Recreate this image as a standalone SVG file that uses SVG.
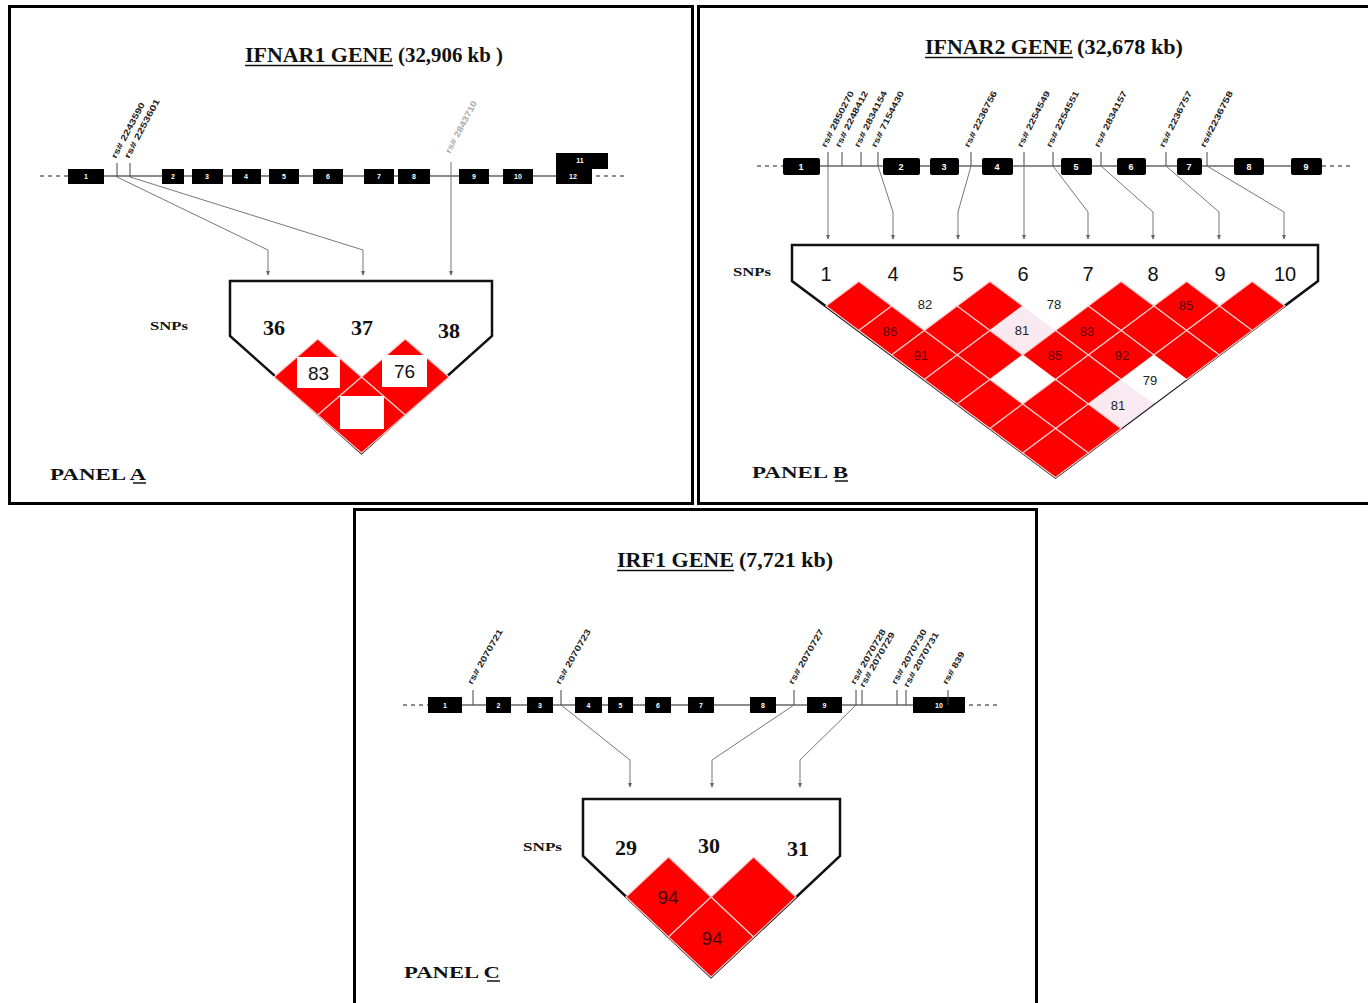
<svg xmlns="http://www.w3.org/2000/svg" xmlns:xlink="http://www.w3.org/1999/xlink" width="1368" height="1003" viewBox="0 0 1368 1003">
<style>
.panel{fill:#fff;stroke:#000;stroke-width:3}
.title{font-family:"Liberation Serif",serif;font-weight:bold;font-size:21px;fill:#111}
.plabel{font-family:"Liberation Serif",serif;font-weight:bold;font-size:17px;fill:#111}
.snps{font-family:"Liberation Serif",serif;font-weight:bold;font-size:12px;fill:#111}
.gline{stroke:#8c8c8c;stroke-width:2;fill:none}
.gdash{stroke:#8c8c8c;stroke-width:2;stroke-dasharray:4 4;fill:none}
.exon{fill:#000}
.enum{font-family:"Liberation Sans",sans-serif;font-weight:bold;font-size:7px;fill:#fff;text-anchor:middle}
.enumB{font-family:"Liberation Sans",sans-serif;font-weight:bold;font-size:9px;fill:#fff;text-anchor:middle}
.tick{stroke:#444;stroke-width:1}
.rs{font-family:"Liberation Sans",sans-serif;font-weight:bold;font-size:8.5px;fill:#222}
.conn{stroke:#777;stroke-width:1;fill:none}
.tri{fill:#fff;stroke:#111;stroke-width:2.5;stroke-linejoin:miter}
.red{fill:#f00;stroke:#ffc8c8;stroke-width:1.2}
.wht{fill:#fff;stroke:none}
.pnk{fill:#f9eaf2;stroke:none}
.numS{font-family:"Liberation Serif",serif;font-weight:bold;font-size:22px;fill:#111;text-anchor:middle}
.numB{font-family:"Liberation Sans",sans-serif;font-size:20px;fill:#111;text-anchor:middle}
.ld{font-family:"Liberation Sans",sans-serif;font-size:13px;fill:#222;text-anchor:middle}
.ldr{font-family:"Liberation Sans",sans-serif;font-size:13px;fill:#5a0000;text-anchor:middle}
.box{fill:#fff}
.boxt{font-family:"Liberation Sans",sans-serif;font-size:19px;fill:#111;text-anchor:middle}
</style>
<defs>
<marker id="arr" viewBox="0 0 6 6" refX="5" refY="3" markerWidth="5" markerHeight="5" orient="auto">
<path d="M0,0.5 L6,3 L0,5.5 Z" fill="#666"/>
</marker>
<path id="dA" d="M0,-38 L43.75,0 L0,38 L-43.75,0 Z"/>
<path id="dB" d="M0,-24.5 L32.79,0 L0,24.5 L-32.79,0 Z"/>
<path id="dC" d="M0,-40 L42.5,0 L0,40 L-42.5,0 Z"/>
</defs>
<rect width="1368" height="1003" fill="#fff"/>

<!-- ================= PANEL A ================= -->
<g id="panelA">
<rect class="panel" x="9.5" y="6.5" width="683" height="497"/>
<text class="title" x="245" y="62" textLength="148" lengthAdjust="spacingAndGlyphs">IFNAR1 GENE</text>
<line x1="245" y1="65.5" x2="393" y2="65.5" stroke="#111" stroke-width="1.5"/>
<text class="title" x="398" y="62" textLength="105" lengthAdjust="spacingAndGlyphs">(32,906 kb )</text>
<line class="gdash" x1="40" y1="176" x2="68" y2="176"/>
<line class="gline" x1="104" y1="176" x2="556" y2="176"/>
<line class="gdash" x1="596" y1="176" x2="628" y2="176"/>
<g id="A-exon1"><rect class="exon" x="68" y="169" width="36" height="15"/><text class="enum" x="86" y="179">1</text></g>
<g id="A-exon2"><rect class="exon" x="162" y="169" width="22" height="15"/><text class="enum" x="173" y="179">2</text></g>
<g id="A-exon3"><rect class="exon" x="192" y="169" width="31" height="15"/><text class="enum" x="207" y="179">3</text></g>
<g id="A-exon4"><rect class="exon" x="232" y="169" width="29" height="15"/><text class="enum" x="246" y="179">4</text></g>
<g id="A-exon5"><rect class="exon" x="269" y="169" width="30" height="15"/><text class="enum" x="284" y="179">5</text></g>
<g id="A-exon6"><rect class="exon" x="313" y="169" width="30" height="15"/><text class="enum" x="328" y="179">6</text></g>
<g id="A-exon7"><rect class="exon" x="364" y="169" width="30" height="15"/><text class="enum" x="379" y="179">7</text></g>
<g id="A-exon8"><rect class="exon" x="398" y="169" width="32" height="15"/><text class="enum" x="414" y="179">8</text></g>
<g id="A-exon9"><rect class="exon" x="459" y="169" width="30" height="15"/><text class="enum" x="474" y="179">9</text></g>
<g id="A-exon10"><rect class="exon" x="503" y="169" width="30" height="15"/><text class="enum" x="518" y="179">10</text></g>
<g id="A-exon11"><path class="exon" d="M556,153 H608 V169 H592 V184 H556 Z"/><text class="enum" x="580" y="163">11</text><text class="enum" x="573" y="179">12</text></g>
<g id="A-snp36"><line class="tick" x1="117" y1="163" x2="117" y2="177"/><text class="rs" transform="translate(116,159) rotate(-62)" textLength="62" lengthAdjust="spacingAndGlyphs">rs# 2243590</text></g>
<g id="A-snp37"><line class="tick" x1="130" y1="163" x2="130" y2="177"/><text class="rs" transform="translate(129,159) rotate(-62)" textLength="66" lengthAdjust="spacingAndGlyphs">rs# 2253601</text></g>
<g id="A-snp38"><text class="rs" style="fill:#aaa" transform="translate(450,154) rotate(-62)" textLength="58" lengthAdjust="spacingAndGlyphs">rs# 2843710</text></g>
<text class="snps" x="150" y="330" textLength="38" lengthAdjust="spacingAndGlyphs">SNPs</text>
<g id="A-ldplot">
<path class="tri" d="M230,281 H492 V336 L361.5,453 L230,336 Z"/>
<text class="numS" x="274" y="335">36</text>
<text class="numS" x="362" y="335">37</text>
<text class="numS" x="449" y="338">38</text>
<use xlink:href="#dA" class="red" x="317.75" y="377"/>
<use xlink:href="#dA" class="red" x="405.25" y="377"/>
<use xlink:href="#dA" class="red" x="361.5" y="415"/>
<rect class="box" x="297" y="357" width="43" height="31"/>
<text class="boxt" x="318.5" y="380">83</text>
<rect class="box" x="382" y="355" width="45" height="32"/>
<text class="boxt" x="404.5" y="378">76</text>
<rect class="box" x="340" y="396" width="44" height="33"/>
</g>
<text class="plabel" x="50" y="480" textLength="96" lengthAdjust="spacingAndGlyphs">PANEL A</text>
<line x1="133" y1="483" x2="146" y2="483" stroke="#111" stroke-width="1.5"/>
</g>

<!-- ================= PANEL B ================= -->
<g id="panelB">
<rect class="panel" x="698.5" y="6.5" width="690" height="497"/>
<text class="title" x="925" y="54" textLength="148" lengthAdjust="spacingAndGlyphs">IFNAR2 GENE</text>
<line x1="925" y1="57.5" x2="1073" y2="57.5" stroke="#111" stroke-width="1.5"/>
<text class="title" x="1077" y="54" textLength="106" lengthAdjust="spacingAndGlyphs">(32,678 kb)</text>
<line class="gdash" x1="757" y1="166" x2="783" y2="166"/>
<line class="gline" x1="783" y1="166" x2="1322" y2="166"/>
<line class="gdash" x1="1322" y1="166" x2="1352" y2="166"/>
<g id="B-exon1"><rect class="exon" x="783" y="158" width="37" height="17" rx="2"/><text class="enumB" x="801" y="170">1</text></g>
<g id="B-exon2"><rect class="exon" x="883" y="158" width="37" height="17" rx="2"/><text class="enumB" x="901" y="170">2</text></g>
<g id="B-exon3"><rect class="exon" x="930" y="158" width="29" height="17" rx="2"/><text class="enumB" x="944" y="170">3</text></g>
<g id="B-exon4"><rect class="exon" x="982" y="158" width="31" height="17" rx="2"/><text class="enumB" x="997" y="170">4</text></g>
<g id="B-exon5"><rect class="exon" x="1061" y="158" width="31" height="17" rx="2"/><text class="enumB" x="1076" y="170">5</text></g>
<g id="B-exon6"><rect class="exon" x="1117" y="158" width="29" height="17" rx="2"/><text class="enumB" x="1131" y="170">6</text></g>
<g id="B-exon7"><rect class="exon" x="1177" y="158" width="25" height="17" rx="2"/><text class="enumB" x="1189" y="170">7</text></g>
<g id="B-exon8"><rect class="exon" x="1234" y="158" width="30" height="17" rx="2"/><text class="enumB" x="1249" y="170">8</text></g>
<g id="B-exon9"><rect class="exon" x="1291" y="158" width="31" height="17" rx="2"/><text class="enumB" x="1306" y="170">9</text></g>
<g id="B-snp1"><line class="tick" x1="828" y1="152" x2="828" y2="166"/><text class="rs" transform="translate(826,148) rotate(-63)" textLength="62" lengthAdjust="spacingAndGlyphs">rs# 2850270</text></g>
<g id="B-snp2"><line class="tick" x1="842" y1="152" x2="842" y2="166"/><text class="rs" transform="translate(840,148) rotate(-63)" textLength="62" lengthAdjust="spacingAndGlyphs">rs# 2248412</text></g>
<g id="B-snp3"><line class="tick" x1="861" y1="152" x2="861" y2="166"/><text class="rs" transform="translate(859,148) rotate(-63)" textLength="62" lengthAdjust="spacingAndGlyphs">rs# 2834154</text></g>
<g id="B-snp4"><line class="tick" x1="878" y1="152" x2="878" y2="166"/><text class="rs" transform="translate(876,148) rotate(-63)" textLength="62" lengthAdjust="spacingAndGlyphs">rs# 7154430</text></g>
<g id="B-snp5"><line class="tick" x1="971" y1="152" x2="971" y2="166"/><text class="rs" transform="translate(969,148) rotate(-63)" textLength="62" lengthAdjust="spacingAndGlyphs">rs# 2236756</text></g>
<g id="B-snp6"><line class="tick" x1="1024" y1="152" x2="1024" y2="166"/><text class="rs" transform="translate(1022,148) rotate(-63)" textLength="62" lengthAdjust="spacingAndGlyphs">rs# 2254549</text></g>
<g id="B-snp7"><line class="tick" x1="1053" y1="152" x2="1053" y2="166"/><text class="rs" transform="translate(1051,148) rotate(-63)" textLength="62" lengthAdjust="spacingAndGlyphs">rs# 2254551</text></g>
<g id="B-snp8"><line class="tick" x1="1101" y1="152" x2="1101" y2="166"/><text class="rs" transform="translate(1099,148) rotate(-63)" textLength="62" lengthAdjust="spacingAndGlyphs">rs# 2834157</text></g>
<g id="B-snp9"><line class="tick" x1="1166" y1="152" x2="1166" y2="166"/><text class="rs" transform="translate(1164,148) rotate(-63)" textLength="62" lengthAdjust="spacingAndGlyphs">rs# 2236757</text></g>
<g id="B-snp10"><line class="tick" x1="1207" y1="152" x2="1207" y2="166"/><text class="rs" transform="translate(1205,148) rotate(-63)" textLength="62" lengthAdjust="spacingAndGlyphs">rs#2236758</text></g>
<text class="snps" x="733" y="276" textLength="38" lengthAdjust="spacingAndGlyphs">SNPs</text>
<g id="B-ldplot">
<path class="tri" d="M792,245 H1318 V281 L1055.5,477.5 L792,281 Z"/>
<text class="numB" x="826" y="281">1</text>
<text class="numB" x="893" y="281">4</text>
<text class="numB" x="958" y="281">5</text>
<text class="numB" x="1023" y="281">6</text>
<text class="numB" x="1088" y="281">7</text>
<text class="numB" x="1153" y="281">8</text>
<text class="numB" x="1220" y="281">9</text>
<text class="numB" x="1285" y="281">10</text>
<use xlink:href="#dB" class="red" x="858.8" y="306"/>
<use xlink:href="#dB" class="wht" x="924.4" y="306"/>
<use xlink:href="#dB" class="red" x="989.9" y="306"/>
<use xlink:href="#dB" class="wht" x="1055.5" y="306"/>
<use xlink:href="#dB" class="red" x="1121.1" y="306"/>
<use xlink:href="#dB" class="red" x="1186.6" y="306"/>
<use xlink:href="#dB" class="red" x="1252.2" y="306"/>
<use xlink:href="#dB" class="red" x="891.6" y="330.5"/>
<use xlink:href="#dB" class="red" x="957.1" y="330.5"/>
<use xlink:href="#dB" class="pnk" x="1022.7" y="330.5"/>
<use xlink:href="#dB" class="red" x="1088.3" y="330.5"/>
<use xlink:href="#dB" class="red" x="1153.9" y="330.5"/>
<use xlink:href="#dB" class="red" x="1219.4" y="330.5"/>
<use xlink:href="#dB" class="red" x="924.4" y="355"/>
<use xlink:href="#dB" class="red" x="989.9" y="355"/>
<use xlink:href="#dB" class="red" x="1055.5" y="355"/>
<use xlink:href="#dB" class="red" x="1121.1" y="355"/>
<use xlink:href="#dB" class="red" x="1186.6" y="355"/>
<use xlink:href="#dB" class="red" x="957.1" y="379.5"/>
<use xlink:href="#dB" class="wht" x="1022.7" y="379.5"/>
<use xlink:href="#dB" class="red" x="1088.3" y="379.5"/>
<use xlink:href="#dB" class="wht" x="1153.9" y="379.5"/>
<use xlink:href="#dB" class="red" x="989.9" y="404"/>
<use xlink:href="#dB" class="red" x="1055.5" y="404"/>
<use xlink:href="#dB" class="pnk" x="1121.1" y="404"/>
<use xlink:href="#dB" class="red" x="1022.7" y="428.5"/>
<use xlink:href="#dB" class="red" x="1088.3" y="428.5"/>
<use xlink:href="#dB" class="red" x="1055.5" y="453"/>
<text class="ld" x="925" y="309">82</text>
<text class="ld" x="1054" y="309">78</text>
<text class="ldr" x="1186" y="310">85</text>
<text class="ldr" x="890" y="336">86</text>
<text class="ld" x="1022" y="335">81</text>
<text class="ldr" x="1087" y="336">83</text>
<text class="ldr" x="921" y="360">91</text>
<text class="ldr" x="1055" y="360">85</text>
<text class="ldr" x="1122" y="360">92</text>
<text class="ld" x="1150" y="385">79</text>
<text class="ld" x="1118" y="410">81</text>
</g>
<text class="plabel" x="752" y="478" textLength="96" lengthAdjust="spacingAndGlyphs">PANEL B</text>
<line x1="835" y1="481" x2="848" y2="481" stroke="#111" stroke-width="1.5"/>
</g>

<!-- ================= PANEL C ================= -->
<g id="panelC">
<rect class="panel" x="354.5" y="509.5" width="682" height="500"/>
<text class="title" x="617" y="567" textLength="117" lengthAdjust="spacingAndGlyphs">IRF1 GENE</text>
<line x1="617" y1="570.5" x2="734" y2="570.5" stroke="#111" stroke-width="1.5"/>
<text class="title" x="739" y="567" textLength="94" lengthAdjust="spacingAndGlyphs">(7,721 kb)</text>
<line class="gdash" x1="403" y1="705" x2="428" y2="705"/>
<line class="gline" x1="428" y1="705" x2="965" y2="705"/>
<line class="gdash" x1="969" y1="705" x2="1001" y2="705"/>
<g id="C-exon1"><rect class="exon" x="428" y="697" width="34" height="16"/><text class="enum" x="445" y="708">1</text></g>
<g id="C-exon2"><rect class="exon" x="486" y="697" width="25" height="16"/><text class="enum" x="498.5" y="708">2</text></g>
<g id="C-exon3"><rect class="exon" x="527" y="697" width="26" height="16"/><text class="enum" x="540" y="708">3</text></g>
<g id="C-exon4"><rect class="exon" x="575" y="697" width="27" height="16"/><text class="enum" x="588.5" y="708">4</text></g>
<g id="C-exon5"><rect class="exon" x="608" y="697" width="25" height="16"/><text class="enum" x="620.5" y="708">5</text></g>
<g id="C-exon6"><rect class="exon" x="645" y="697" width="26" height="16"/><text class="enum" x="658" y="708">6</text></g>
<g id="C-exon7"><rect class="exon" x="688" y="697" width="26" height="16"/><text class="enum" x="701" y="708">7</text></g>
<g id="C-exon8"><rect class="exon" x="750" y="697" width="26" height="16"/><text class="enum" x="763" y="708">8</text></g>
<g id="C-exon9"><rect class="exon" x="807" y="697" width="35" height="16"/><text class="enum" x="824.5" y="708">9</text></g>
<g id="C-exon10"><rect class="exon" x="913" y="697" width="52" height="16"/><text class="enum" x="939" y="708">10</text></g>
<g id="C-snp1"><line class="tick" x1="473" y1="690" x2="473" y2="705"/><text class="rs" transform="translate(472,685) rotate(-60)" textLength="62" lengthAdjust="spacingAndGlyphs">rs# 2070721</text></g>
<g id="C-snp2"><line class="tick" x1="561" y1="690" x2="561" y2="705"/><text class="rs" transform="translate(560,685) rotate(-60)" textLength="62" lengthAdjust="spacingAndGlyphs">rs# 2070723</text></g>
<g id="C-snp3"><line class="tick" x1="794" y1="690" x2="794" y2="705"/><text class="rs" transform="translate(793,685) rotate(-60)" textLength="62" lengthAdjust="spacingAndGlyphs">rs# 2070727</text></g>
<g id="C-snp4"><line class="tick" x1="856" y1="690" x2="856" y2="705"/><text class="rs" transform="translate(855,685) rotate(-60)" textLength="62" lengthAdjust="spacingAndGlyphs">rs# 2070728</text></g>
<g id="C-snp5"><line class="tick" x1="862" y1="690" x2="862" y2="705"/><text class="rs" transform="translate(864,688) rotate(-60)" textLength="62" lengthAdjust="spacingAndGlyphs">rs# 2070729</text></g>
<g id="C-snp6"><line class="tick" x1="897" y1="690" x2="897" y2="705"/><text class="rs" transform="translate(896,685) rotate(-60)" textLength="62" lengthAdjust="spacingAndGlyphs">rs# 2070730</text></g>
<g id="C-snp7"><line class="tick" x1="906" y1="690" x2="906" y2="705"/><text class="rs" transform="translate(908,688) rotate(-60)" textLength="62" lengthAdjust="spacingAndGlyphs">rs# 2070731</text></g>
<g id="C-snp8"><line class="tick" x1="948" y1="690" x2="948" y2="705"/><text class="rs" transform="translate(947,685) rotate(-60)" textLength="36" lengthAdjust="spacingAndGlyphs">rs# 839</text></g>
<text class="snps" x="523" y="851" textLength="39" lengthAdjust="spacingAndGlyphs">SNPs</text>
<g id="C-ldplot">
<path class="tri" d="M583,799 H840 V856 L711,977 L583,856 Z"/>
<text class="numS" x="626" y="855">29</text>
<text class="numS" x="709" y="853">30</text>
<text class="numS" x="798" y="856">31</text>
<use xlink:href="#dC" class="red" x="668.5" y="897"/>
<use xlink:href="#dC" class="red" x="753.5" y="897"/>
<use xlink:href="#dC" class="red" x="711" y="937"/>
<text class="ldr" style="font-size:19px;fill:#3a0000" x="668" y="904">94</text>
<text class="ldr" style="font-size:19px;fill:#3a0000" x="712" y="945">94</text>
</g>
<text class="plabel" x="404" y="978" textLength="96" lengthAdjust="spacingAndGlyphs">PANEL C</text>
<line x1="487" y1="981" x2="500" y2="981" stroke="#111" stroke-width="1.5"/>
</g>

<!-- ================= CONNECTORS ================= -->
<g id="connectors">
<polyline class="conn" points="117,177 268,250 268,275" marker-end="url(#arr)"/>
<polyline class="conn" points="130,177 363,250 363,275" marker-end="url(#arr)"/>
<polyline class="conn" points="451,162 451,275" marker-end="url(#arr)"/>
<polyline class="conn" points="828,166 828,239" marker-end="url(#arr)"/>
<polyline class="conn" points="878,166 893,212 893,239" marker-end="url(#arr)"/>
<polyline class="conn" points="971,166 958,212 958,239" marker-end="url(#arr)"/>
<polyline class="conn" points="1024,166 1024,239" marker-end="url(#arr)"/>
<polyline class="conn" points="1053,166 1088,212 1088,239" marker-end="url(#arr)"/>
<polyline class="conn" points="1101,166 1153,212 1153,239" marker-end="url(#arr)"/>
<polyline class="conn" points="1166,166 1219,212 1219,239" marker-end="url(#arr)"/>
<polyline class="conn" points="1207,166 1284,212 1284,239" marker-end="url(#arr)"/>
<polyline class="conn" points="561,705 630,760 630,787" marker-end="url(#arr)"/>
<polyline class="conn" points="794,705 712,760 712,787" marker-end="url(#arr)"/>
<polyline class="conn" points="856,705 800,760 800,787" marker-end="url(#arr)"/>
</g>
</svg>
